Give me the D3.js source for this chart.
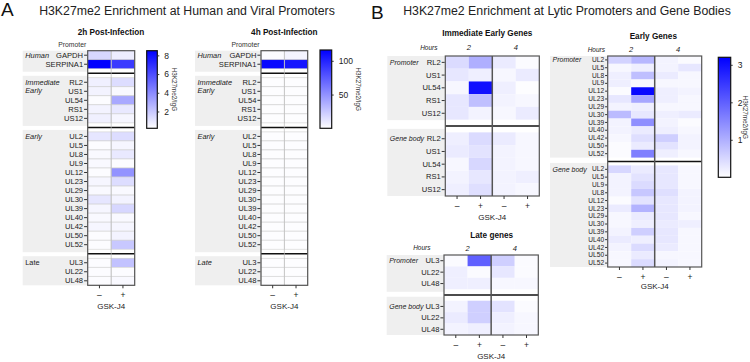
<!DOCTYPE html>
<html>
<head>
  <meta charset="UTF-8">
  <script src="https://d3js.org/d3.v7.min.js"></script>
  <style>
    body { margin: 0; background: #fff; }
    svg { font-family: "Liberation Sans", Arial, sans-serif; }
  </style>
</head>
<body>
  <svg id="fig" width="750" height="362"></svg>

  <script>
    // ---- data ----
    let gskJ4 = ["–", "+"];
    let hours = ["2", "4"];

    let humanGenes = ["GAPDH", "SERPINA1"];
    let ieGenes = ["RL2", "US1", "UL54", "RS1", "US12"];
    let earlyGenes = ["UL2", "UL5", "UL8", "UL9", "UL12", "UL23", "UL29", "UL30", "UL39", "UL40", "UL42", "UL50", "UL52"];
    let earlyBodyGenes = ["UL2", "UL5", "UL9", "UL8", "UL12", "UL23", "UL29", "UL30", "UL39", "UL40", "UL42", "UL50", "UL52"];
    let lateGenes = ["UL3", "UL22", "UL48"];

    // panel A, [GSK-J4 -, GSK-J4 +]
    let a2hHuman = [[1.5, 0.8], [8.5, 6.6]];
    let a2hIE = [[0.7, 1.3], [0.6, 0.4], [0.3, 3.0], [0.6, 0.9], [0.7, 0.5]];
    let a2hEarly = [[1.0, 1.3], [0.3, 0.5], [0.4, 0.9], [0.4, 0.3], [0.3, 3.7], [0.5, 1.3], [0.4, 0.4],
                    [1.0, 0.6], [0.5, 1.5], [0.4, 0.4], [0.5, 0.5], [0.3, 0.6], [0.3, 2.0]];
    let a2hLate = [[0.3, 2.2], [0.3, 0.3], [0.3, 0.4]];

    let a4hHuman = [[2, 5], [112, 106]];
    let a4hIE = [[1, 1], [1, 1], [1, 1], [1, 1], [1, 1]];
    let a4hEarly = [[1, 1], [1, 1], [1, 1], [1, 1], [1, 1], [1, 1], [1, 1], [1, 1], [1, 1], [1, 1], [1, 1], [1, 1], [1, 1]];
    let a4hLate = [[1, 1], [1, 1], [1, 1]];

    // panel B, [2h -, 2h +, 4h -, 4h +]
    let bIEPromoter = [[0.45, 1.0, 0.25, 0.05], [0.3, 0.2, 0.1, 0.25], [0.1, 3.0, 0.2, 0.02], [0.3, 0.8, 0.15, 0.1], [0.3, 0.15, 0.1, 0.25]];
    let bIEBody = [[0.2, 0.45, 0.25, 0.1], [0.25, 0.35, 0.15, 0.1], [0.1, 0.5, 0.15, 0.1], [0.15, 0.3, 0.15, 0.2], [0.2, 0.4, 0.15, 0.1]];
    let bEarlyPromoter = [[0.55, 0.9, 0.15, 0.05], [0.1, 0.2, 0.15, 0.3], [0.2, 0.8, 0.25, 0.1], [0.2, 0.1, 0.1, 0.1],
                          [0.05, 3.1, 0.2, 0.15], [0.3, 1.1, 0.2, 0.1], [0.15, 0.2, 0.1, 0.1], [0.85, 0.3, 0.2, 0.25],
                          [0.15, 1.4, 0.15, 0.05], [0.15, 0.25, 0.2, 0.1], [0.1, 0.4, 0.6, 0.15], [0.05, 0.25, 0.35, 0.15],
                          [0.05, 1.6, 0.2, 0.1]];
    let bEarlyBody = [[0.5, 0.25, 0.3, 0.1], [0.15, 0.35, 0.3, 0.1], [0.15, 0.45, 0.3, 0.1], [0.15, 0.7, 0.4, 0.15],
                      [0.05, 0.35, 0.3, 0.15], [0.25, 0.95, 0.3, 0.15], [0.1, 0.25, 0.3, 0.1], [0.1, 0.2, 0.25, 0.2],
                      [0.15, 0.6, 0.3, 0.1], [0.25, 0.2, 0.3, 0.1], [0.15, 0.45, 0.25, 0.1], [0.1, 0.25, 0.1, 0.1],
                      [0.1, 0.45, 0.15, 0.1]];
    let bLatePromoter = [[0.05, 2.0, 0.6, 0.05], [0.2, 0.05, 0.3, 0.05], [0.2, 0.2, 0.1, 0.1]];
    let bLateBody = [[0.15, 0.6, 0.35, 0.05], [0.25, 0.6, 0.2, 0.1], [0.15, 0.2, 0.15, 0.1]];

    let a2hTicks = [2, 4, 6, 8];
    let a4hTicks = [50, 100];
    let bTicks = [1, 2, 3];

    // ---- drawing ----
    let svg = d3.select("#fig");
    let defs = svg.append("defs");

    function colorScale(lo, hi) {
      return d3.scaleLinear().domain([lo, hi]).range(["#ffffff", "#0000ff"]).clamp(true);
    }

    function heatmap(o) {
      let g = svg.append("g");
      // row keys with blank spacer rows between sections
      let keys = [], names = {};
      o.sections.forEach((s, i) => {
        if (i > 0) keys.push("gap" + i);
        s.rows.forEach(r => { let k = i + "|" + r; keys.push(k); names[k] = r; });
      });
      let y = d3.scaleBand().domain(keys).range([o.y0, o.y1]);
      let x = d3.scaleBand().domain(o.cols).range([o.x0, o.x1]);

      // grey label bands
      o.sections.forEach((s, i) => {
        let top = y(i + "|" + s.rows[0]);
        let bot = y(i + "|" + s.rows[s.rows.length - 1]) + y.bandwidth();
        let t = Math.max(o.y0, top - o.bandPad[0]);
        let b = Math.min(o.y1, bot + o.bandPad[1]);
        g.append("rect").attr("x", o.bandX).attr("y", t)
          .attr("width", o.x0 - o.bandX).attr("height", b - t).attr("fill", "#efefef");
        s.label.forEach((line, j) => {
          g.append("text").attr("x", o.bandX + 2.5)
            .attr("y", y(i + "|" + s.rows[0]) + y.bandwidth() / 2 + j * 8.5)
            .attr("dy", "0.35em").attr("font-size", o.groupFont)
            .attr("font-style", s.italic === false ? "normal" : "italic")
            .attr("fill", "#222").text(line);
        });
      });

      // cells
      o.sections.forEach((s, i) => {
        s.rows.forEach((r, ri) => {
          o.cols.forEach((c, ci) => {
            g.append("rect")
              .attr("x", x(c)).attr("y", y(i + "|" + r))
              .attr("width", x.bandwidth()).attr("height", y.bandwidth())
              .attr("fill", o.color(s.values[ri][ci]))
              .attr("stroke", o.grid ? "#cfcfcf" : "none").attr("stroke-width", 0.6);
          });
        });
      });

      // section dividers in the blank rows
      o.sections.forEach((s, i) => {
        if (i === 0) return;
        let gy = y("gap" + i) + y.bandwidth() / 2;
        g.append("line").attr("x1", o.x0).attr("x2", o.x1).attr("y1", gy).attr("y2", gy)
          .attr("stroke", "#111").attr("stroke-width", 1.5);
      });

      // hour dividers
      if (o.hourSplit) {
        let hx = x(o.cols[2]);
        g.append("line").attr("x1", hx).attr("x2", hx).attr("y1", o.y0).attr("y2", o.y1)
          .attr("stroke", "#555").attr("stroke-width", 1.5);
      } else if (o.grid) {
        let hx = x(o.cols[1]);
        g.append("line").attr("x1", hx).attr("x2", hx).attr("y1", o.y0).attr("y2", o.y1)
          .attr("stroke", "#bbb").attr("stroke-width", 0.7);
      }

      g.append("rect").attr("x", o.x0).attr("y", o.y0)
        .attr("width", o.x1 - o.x0).attr("height", o.y1 - o.y0)
        .attr("fill", "none").attr("stroke", "#555").attr("stroke-width", 1.2);

      // row axis
      let ya = g.append("g").attr("transform", `translate(${o.x0 - 0.6},0)`)
        .call(d3.axisLeft(y).tickValues(Object.keys(names)).tickFormat(k => names[k])
          .tickSize(o.tickLen).tickPadding(1));
      ya.select(".domain").remove();
      ya.selectAll("line").attr("stroke", "#333");
      ya.selectAll("text").attr("font-size", o.rowFont).attr("fill", "#222")
        .attr("font-family", null);

      // column axis
      let xa = g.append("g").attr("transform", `translate(0,${o.y1})`)
        .call(d3.axisBottom(x).tickFormat(c => c.split("|").pop()).tickSize(3).tickPadding(4));
      xa.select(".domain").remove();
      xa.selectAll("line").attr("stroke", "#333");
      xa.selectAll("text").attr("font-size", 8.5).attr("fill", "#222").attr("font-family", null);

      g.append("text").attr("x", (o.x0 + o.x1) / 2).attr("y", o.gskY).attr("dy", "0.35em")
        .attr("text-anchor", "middle").attr("font-size", 8).attr("fill", "#222").text("GSK-J4");

      g.append("text").attr("x", o.titleX).attr("y", o.titleY).attr("dy", "0.35em")
        .attr("text-anchor", "middle").attr("font-size", 8.2).attr("font-weight", "bold")
        .attr("fill", "#111").text(o.title);

      if (o.header) {
        g.append("text").attr("x", o.x0 - 1.5).attr("y", o.headerY).attr("dy", "0.35em")
          .attr("text-anchor", "end").attr("font-size", 6.8).attr("fill", "#333").text(o.header);
      }
      if (o.hourSplit) {
        g.append("text").attr("x", o.hoursX).attr("y", o.hoursY).attr("dy", "0.35em")
          .attr("text-anchor", "end").attr("font-size", 6.5).attr("font-style", "italic")
          .attr("fill", "#222").text("Hours");
        hours.forEach((h, i) => {
          let cx = (x(o.cols[i * 2]) + x(o.cols[i * 2 + 1]) + x.bandwidth()) / 2;
          g.append("text").attr("x", cx).attr("y", o.hoursY).attr("dy", "0.35em")
            .attr("text-anchor", "middle").attr("font-size", 7.5).attr("font-style", "italic")
            .attr("fill", "#222").text(h);
        });
      }
    }

    function colorbar(o) {
      let id = "grad" + o.id;
      let grad = defs.append("linearGradient").attr("id", id)
        .attr("x1", 0).attr("y1", 1).attr("x2", 0).attr("y2", 0);
      grad.append("stop").attr("offset", "0%").attr("stop-color", o.color(o.lo));
      grad.append("stop").attr("offset", "100%").attr("stop-color", o.color(o.hi));
      let s = d3.scaleLinear().domain([o.lo, o.hi]).range([o.y1, o.y0]);
      svg.append("rect").attr("x", o.x0).attr("y", o.y0)
        .attr("width", o.x1 - o.x0).attr("height", o.y1 - o.y0)
        .attr("fill", `url(#${id})`).attr("stroke", "#111").attr("stroke-width", 1.2);
      let ax = svg.append("g").attr("transform", `translate(${o.x1},0)`)
        .call(d3.axisRight(s).tickValues(o.ticks).tickFormat(d3.format("d")).tickSize(2).tickPadding(5));
      ax.select(".domain").remove();
      ax.selectAll("line").attr("stroke", "#333");
      ax.selectAll("text").attr("font-size", 8.5).attr("fill", "#222").attr("font-family", null);
      svg.append("text").attr("transform", `translate(${o.labelX},${(o.y0 + o.y1) / 2}) rotate(90)`)
        .attr("text-anchor", "middle").attr("dy", "0.35em").attr("font-size", 6.3)
        .attr("fill", "#333").text("H3K27me2/IgG");
    }

    // panel letters and titles
    svg.append("text").attr("x", 1).attr("y", 16).attr("font-size", 19).attr("fill", "#111").text("A");
    svg.append("text").attr("x", 371).attr("y", 19).attr("font-size", 19).attr("fill", "#111").text("B");
    svg.append("text").attr("x", 187).attr("y", 11).attr("dy", "0.35em").attr("text-anchor", "middle")
      .attr("font-size", 12.3).attr("fill", "#222").text("H3K27me2 Enrichment at Human and Viral Promoters");
    svg.append("text").attr("x", 567).attr("y", 11).attr("dy", "0.35em").attr("text-anchor", "middle")
      .attr("font-size", 12.3).attr("fill", "#222").text("H3K27me2 Enrichment at Lytic Promoters and Gene Bodies");

    let colsA = gskJ4.map(d => "A|" + d);
    let colsB = [];
    hours.forEach(h => gskJ4.forEach(d => colsB.push(h + "|" + d)));

    let c2h = colorScale(0.2, 8.5);
    let c4h = colorScale(0, 116);
    let cB = colorScale(0, 3.2);

    function aSections(hum, ie, early, late, lateItalic) {
      return [
        { rows: humanGenes, values: hum, label: ["Human"] },
        { rows: ieGenes, values: ie, label: ["Immediate", "Early"] },
        { rows: earlyGenes, values: early, label: ["Early"] },
        { rows: lateGenes, values: late, label: ["Late"], italic: lateItalic }
      ];
    }

    heatmap({
      sections: aSections(a2hHuman, a2hIE, a2hEarly, a2hLate, false), cols: colsA, color: c2h, grid: true,
      x0: 87.7, x1: 134.7, y0: 50.7, y1: 285.3, bandX: 22.7, bandPad: [2, 3],
      tickLen: 3, rowFont: 7.6, groupFont: 7.4, gskY: 306.5,
      title: "2h Post-Infection", titleX: 111, titleY: 31.7, header: "Promoter", headerY: 44.5
    });
    colorbar({ id: "a2", color: c2h, lo: 0.2, hi: 8.5, ticks: a2hTicks,
      x0: 146.7, x1: 157.3, y0: 50.7, y1: 128.3, labelX: 174 });

    heatmap({
      sections: aSections(a4hHuman, a4hIE, a4hEarly, a4hLate, true), cols: colsA, color: c4h, grid: true,
      x0: 261, x1: 307.7, y0: 50.7, y1: 285.3, bandX: 195, bandPad: [2, 3],
      tickLen: 3, rowFont: 7.6, groupFont: 7.4, gskY: 306.5,
      title: "4h Post-Infection", titleX: 284.3, titleY: 31.7, header: "Promoter", headerY: 44.5
    });
    colorbar({ id: "a4", color: c4h, lo: 0, hi: 116, ticks: a4hTicks,
      x0: 320, x1: 331.7, y0: 50, y1: 128.3, labelX: 358 });

    heatmap({
      sections: [
        { rows: ieGenes, values: bIEPromoter, label: ["Promoter"] },
        { rows: ieGenes, values: bIEBody, label: ["Gene body"] }
      ],
      cols: colsB, color: cB, grid: false, hourSplit: true,
      x0: 445.3, x1: 539.3, y0: 56, y1: 196, bandX: 387.3, bandPad: [3.5, 0.5],
      tickLen: 3, rowFont: 7.6, groupFont: 7, gskY: 216.7,
      title: "Immediate Early Genes", titleX: 487.3, titleY: 33.3, hoursX: 437.5, hoursY: 47.7
    });

    heatmap({
      sections: [
        { rows: earlyGenes, values: bEarlyPromoter, label: ["Promoter"] },
        { rows: earlyBodyGenes, values: bEarlyBody, label: ["Gene body"] }
      ],
      cols: colsB, color: cB, grid: false, hourSplit: true,
      x0: 607.7, x1: 701.7, y0: 56, y1: 267, bandX: 550, bandPad: [2.5, 0],
      tickLen: 2, rowFont: 6.6, groupFont: 7, gskY: 286,
      title: "Early Genes", titleX: 653.3, titleY: 36, hoursX: 605, hoursY: 49.5
    });

    heatmap({
      sections: [
        { rows: lateGenes, values: bLatePromoter, label: ["Promoter"] },
        { rows: lateGenes, values: bLateBody, label: ["Gene body"] }
      ],
      cols: colsB, color: cB, grid: false, hourSplit: true,
      x0: 444, x1: 538.3, y0: 255, y1: 335, bandX: 386.7, bandPad: [4, 2.5],
      tickLen: 3, rowFont: 7.6, groupFont: 7, gskY: 356.5,
      title: "Late genes", titleX: 491.7, titleY: 235, hoursX: 430.5, hoursY: 248
    });

    colorbar({ id: "b", color: cB, lo: 0, hi: 3.2, ticks: bTicks,
      x0: 718.3, x1: 730.7, y0: 57.3, y1: 177.3, labelX: 745 });
  </script>
</body>
</html>
